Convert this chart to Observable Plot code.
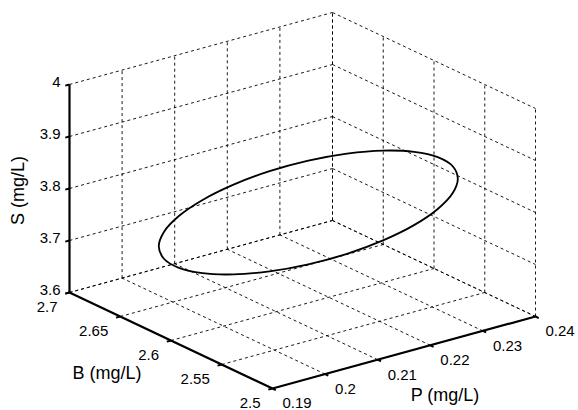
<!DOCTYPE html>
<html>
<head>
<meta charset="utf-8">
<script src="https://cdn.jsdelivr.net/npm/d3@7"></script>
<script src="https://cdn.jsdelivr.net/npm/@observablehq/plot@0.6"></script>
<style>
  html, body { margin: 0; padding: 0; background: #fff; }
  svg { display: block; }
</style>
</head>
<body>
<div id="chart"></div>
<script>
// ---- data ----
const pTicks = [0.19, 0.2, 0.21, 0.22, 0.23, 0.24];
const bTicks = [2.5, 2.55, 2.6, 2.65, 2.7];
const sTicks = [3.6, 3.7, 3.8, 3.9, 4];
const pLabels = ["0.19", "0.2", "0.21", "0.22", "0.23", "0.24"];
const bLabels = ["2.5", "2.55", "2.6", "2.65", "2.7"];
const sLabels = ["3.6", "3.7", "3.8", "3.9", "4"];

// limit cycle (P, B, S) in mg/L
const cycleP = [0.23486, 0.23419, 0.23221, 0.22908, 0.22499, 0.22023, 0.21512, 0.21001, 0.20525, 0.20116, 0.19803, 0.19606,
                0.19538, 0.19606, 0.19803, 0.20116, 0.20525, 0.21001, 0.21512, 0.22023, 0.22499, 0.22908, 0.23221, 0.23419];
const cycleB = [2.54991, 2.55145, 2.55594, 2.56309, 2.57241, 2.58326, 2.59491, 2.60656, 2.61741, 2.62673, 2.63388, 2.63838,
                2.63991, 2.63838, 2.63388, 2.62673, 2.61741, 2.60656, 2.59491, 2.58326, 2.57241, 2.56309, 2.55594, 2.55145];
const cycleS = [3.8335, 3.8060, 3.7767, 3.7477, 3.7211, 3.6985, 3.6816, 3.6715, 3.6688, 3.6738, 3.6862, 3.7050,
                3.7290, 3.7566, 3.7859, 3.8148, 3.8415, 3.8641, 3.8810, 3.8911, 3.8938, 3.8887, 3.8764, 3.8576];

// ---- 3D view (MATLAB-like camera) ----
const P0 = 0.19, P1 = 0.24, B0 = 2.5, B1 = 2.7, S0 = 3.6, S1 = 4;
const view = {pu: 263, pv: 72, bu: 203, bv: -96, sv: 208};
function proj(P, B, S) {
  const a = (P - P0) / (P1 - P0);
  const b = (B1 - B) / (B1 - B0);
  const c = (S - S0) / (S1 - S0);
  return {u: view.pu * a + view.bu * b, v: view.pv * a + view.bv * b + view.sv * c};
}
function seg(p1, p2) {
  const A = proj(...p1), Bp = proj(...p2);
  return {x1: A.u, y1: A.v, x2: Bp.u, y2: Bp.v};
}

// grid lines on the three back planes
const grid = [];
for (const p of pTicks) {
  grid.push(seg([p, B0, S0], [p, B1, S0]));   // floor
  grid.push(seg([p, B1, S0], [p, B1, S1]));   // back wall
}
for (const b of bTicks) {
  grid.push(seg([P0, b, S0], [P1, b, S0]));   // floor
  grid.push(seg([P1, b, S0], [P1, b, S1]));   // right wall
}
for (const s of sTicks) {
  grid.push(seg([P0, B1, s], [P1, B1, s]));   // back wall
  grid.push(seg([P1, B1, s], [P1, B0, s]));   // right wall
}

// axis lines
const axes = [
  seg([P0, B1, S0], [P0, B1, S1]),  // S axis
  seg([P0, B1, S0], [P0, B0, S0]),  // B axis
  seg([P0, B0, S0], [P1, B0, S0])   // P axis
];
// tick marks
const tickLen = 0.016;
const ticks = [
  ...sTicks.map(s => seg([P0, B1, s], [P0 - tickLen * (P1 - P0), B1, s])),
  ...bTicks.map(b => seg([P0, b, S0], [P0 - tickLen * (P1 - P0), b, S0])),
  ...pTicks.map(p => seg([p, B0, S0], [p, B0 - tickLen * (B1 - B0), S0]))
];

const sLab = sTicks.map((s, i) => ({...proj(P0, B1, s), t: sLabels[i]}));
const bLab = bTicks.map((b, i) => ({...proj(P0, b, S0), t: bLabels[i]}));
const pLab = pTicks.map((p, i) => ({...proj(p, B0, S0), t: pLabels[i]}));

const cycle = cycleP.map((p, i) => proj(p, cycleB[i], cycleS[i]));

const titleS = proj(P0, B1, (S0 + S1) / 2);
const titleB = proj(P0, (B0 + B1) / 2, S0);
const titleP = proj((P0 + P1) / 2, B0, S0);

const font = "Liberation Sans, Arial, Helvetica, sans-serif";

const chart = Plot.plot({
  width: 578,
  height: 410,
  marginLeft: 69,
  marginRight: 43,
  marginTop: 12,
  marginBottom: 22,
  x: {domain: [0, 466], axis: null},
  y: {domain: [-96, 280], axis: null},
  style: {fontFamily: font, background: "#fff", color: "#000"},
  marks: [
    Plot.link(grid, {x1: "x1", y1: "y1", x2: "x2", y2: "y2", stroke: "#000", strokeWidth: 0.9, strokeDasharray: "3,3"}),
    Plot.line(cycle, {x: "u", y: "v", curve: "catmull-rom-closed", stroke: "#000", strokeWidth: 1.8}),
    Plot.link(axes, {x1: "x1", y1: "y1", x2: "x2", y2: "y2", stroke: "#000", strokeWidth: 2.2}),
    Plot.link(ticks, {x1: "x1", y1: "y1", x2: "x2", y2: "y2", stroke: "#000", strokeWidth: 2}),
    Plot.text(sLab, {x: "u", y: "v", text: "t", textAnchor: "end", dx: -9, dy: -2, fontSize: 15, fill: "#000"}),
    Plot.text(bLab, {x: "u", y: "v", text: "t", textAnchor: "end", dx: -12, dy: 15, fontSize: 15, fill: "#000"}),
    Plot.text(pLab, {x: "u", y: "v", text: "t", textAnchor: "start", dx: 10, dy: 15, fontSize: 15, fill: "#000"}),
    Plot.text([titleS], {x: "u", y: "v", text: () => "S (mg/L)", rotate: -90, dx: -51, dy: 2, fontSize: 18, fill: "#000"}),
    Plot.text([titleB], {x: "u", y: "v", text: () => "B (mg/L)", dx: -64, dy: 33, fontSize: 18, fill: "#000"}),
    Plot.text([titleP], {x: "u", y: "v", text: () => "P (mg/L)", dx: 41, dy: 43, fontSize: 18, fill: "#000"})
  ]
});
document.getElementById("chart").appendChild(chart);
</script>
</body>
</html>
